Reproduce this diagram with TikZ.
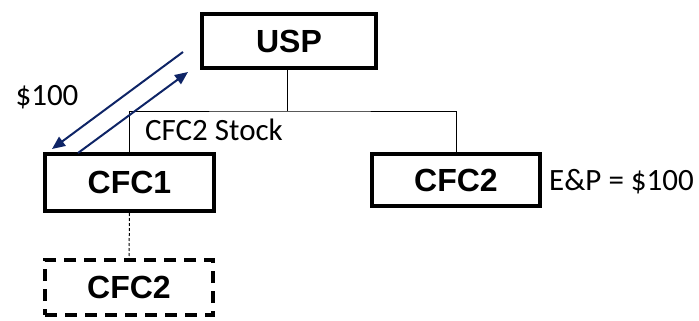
\documentclass[tikz,border=0pt]{standalone}
\usepackage{fontspec}
\setmainfont{Carlito}
\newfontfamily\arialfont{Liberation Sans}
\usepackage{tikz}
\usetikzlibrary{arrows.meta}
\definecolor{navyline}{HTML}{0E2466}

\begin{document}
\begin{tikzpicture}[x=1pt,y=-1pt]

      \useasboundingbox (0,0) rectangle (699,321);
      \tikzset{entity/.style={draw,line width=4pt,font=\arialfont\bfseries\fontsize{32}{32}\selectfont,inner sep=0pt},
               label text/.style={font=\fontsize{31}{31}\selectfont,inner sep=0pt},
               flow/.style={draw=navyline,line width=2pt,-{Triangle[length=13pt,width=11pt]}}}

      \node [entity,minimum width=174,minimum height=54] (usp) at (289,41) {USP};
      \node [entity,minimum width=169,minimum height=57] (cfc1) at (129.5,182.5) {CFC1};
      \node [entity,minimum width=168,minimum height=52] (cfc2) at (456,180) {CFC2};
      \node [entity,dash pattern=on 12pt off 8pt,minimum width=168,minimum height=55] (cfc2new) at (129,287.5) {CFC2};

      % ownership lines
      \coordinate (bus) at (287,111);
      \draw [line width=1pt] (usp.south -| bus) -- (bus);
      \draw [line width=1pt] (cfc1.north) |- (bus) -| (cfc2.north);
      \draw [line width=1pt,dash pattern=on 3pt off 2pt] (cfc1.south) -- (cfc2new.north);

      % distribution
      \coordinate (d1) at (183,52);
      \coordinate (d2) at (52,149);
      \coordinate (s1) at (78,153);
      \coordinate (s2) at (188,72);
      \draw [flow] (d1) -- (d2);
      \draw [flow] (s1) -- (s2);

      \node [label text] (dist) at (47,97) {\$100};
      \node [label text,anchor=west] (stock) at (145,130) {CFC2 Stock};
      \node [label text,anchor=west] (ep) at (549,182) {E\&P = \$100};

    \end{tikzpicture}
\end{document}
